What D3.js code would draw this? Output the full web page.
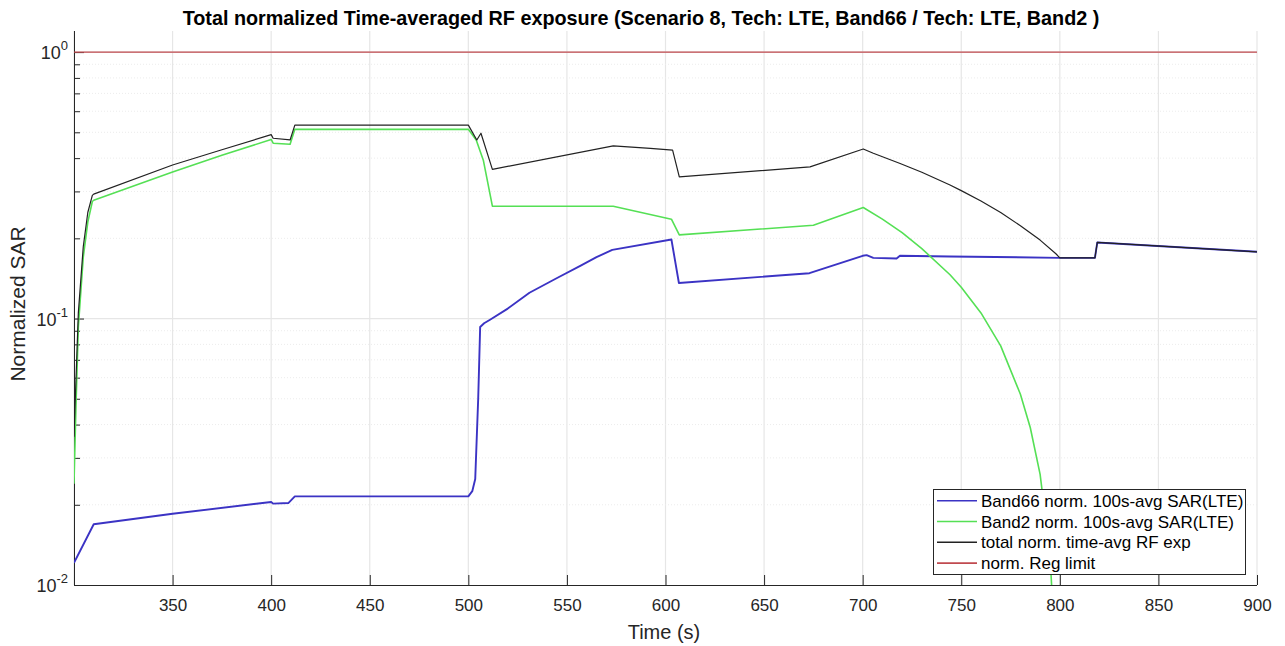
<!DOCTYPE html>
<html>
<head>
<meta charset="utf-8">
<script src="https://cdn.jsdelivr.net/npm/d3@7"></script>
<style>
  html, body { margin: 0; padding: 0; background: #ffffff; }
  svg { display: block; font-family: "Liberation Sans", Arial, Helvetica, sans-serif; }
</style>
</head>
<body>
<svg id="chart" width="1285" height="646"></svg>
<script>
// ---- data ----
const titleText = "Total normalized Time-averaged RF exposure (Scenario 8, Tech: LTE, Band66 / Tech: LTE, Band2 )";
const xLabel = "Time (s)";
const yLabel = "Normalized SAR";
const xTicks = [350, 400, 450, 500, 550, 600, 650, 700, 750, 800, 850, 900];
const yMajorTicks = [0.01, 0.1, 1];
const yTickExp = ["-2", "-1", "0"];
const seriesNames = ["Band66 norm. 100s-avg SAR(LTE)", "Band2 norm. 100s-avg SAR(LTE)", "total norm. time-avg RF exp", "norm. Reg limit"];

const band66T = [300, 310, 350, 400, 401, 408.7, 412, 500, 502, 503.5, 505, 506, 508, 511, 520, 531, 545, 557, 565, 573, 603, 606.8, 673, 700, 702, 705.4, 717.2, 718.9, 744, 800, 817.8, 819, 900];
const band66V = [0.0121, 0.0169, 0.0185, 0.0205, 0.0202, 0.0203, 0.0215, 0.0215, 0.0225, 0.025, 0.05, 0.093, 0.096, 0.099, 0.109, 0.125, 0.142, 0.158, 0.17, 0.181, 0.198, 0.136, 0.148, 0.172, 0.173, 0.169, 0.168, 0.172, 0.171, 0.169, 0.169, 0.193, 0.178];

const band2T = [300, 301, 302.2, 304.7, 307, 309.3, 310, 350, 375, 400, 401, 409.6, 412, 500, 504, 507.6, 512.2, 573.5, 603, 607, 675, 700.3, 710, 720, 730, 744.3, 750, 760, 770, 780, 785, 790, 795, 798, 799.5];
const band2V = [0.024, 0.047, 0.093, 0.17, 0.23, 0.275, 0.278, 0.355, 0.41, 0.47, 0.455, 0.451, 0.513, 0.513, 0.468, 0.393, 0.264, 0.264, 0.236, 0.206, 0.224, 0.261, 0.236, 0.21, 0.183, 0.146, 0.131, 0.105, 0.079, 0.052, 0.039, 0.026, 0.013, 0.005, 0.0013];

const totalT = [300, 301, 302.2, 304.7, 307, 309.3, 310, 350, 375, 400, 401, 409.6, 412, 500, 504.3, 506.4, 512.2, 573.5, 592.3, 603.6, 607, 673.3, 700.3, 705.4, 719, 730, 744.3, 750, 760, 770, 780, 790, 798, 800, 817.8, 819, 900];
const totalV = [0.036, 0.059, 0.105, 0.186, 0.25, 0.29, 0.293, 0.377, 0.43, 0.49, 0.475, 0.468, 0.532, 0.532, 0.468, 0.496, 0.363, 0.445, 0.435, 0.429, 0.340, 0.371, 0.433, 0.417, 0.382, 0.354, 0.317, 0.302, 0.276, 0.25, 0.223, 0.197, 0.175, 0.169, 0.169, 0.193, 0.178];

const limitT = [300, 900];
const limitV = [1, 1];

// ---- layout ----
const svg = d3.select("#chart");
const plotL = 74, plotR = 1257, plotT = 31, plotB = 585;
const x = d3.scaleLinear().domain([300, 900]).range([plotL, plotR]);
const y = d3.scaleLog().domain([0.01, 1.2]).range([plotB, plotT]);

const colors = ["#3b33c4", "#55e055", "#222222", "#c04a4f"];

// grid
const grid = svg.append("g");
const vGrid = d3.range(300, 901, 50);
grid.selectAll("line.vg").data(vGrid).join("line")
  .attr("x1", d => x(d)).attr("x2", d => x(d))
  .attr("y1", plotT).attr("y2", plotB)
  .attr("stroke", "#e6e6e6").attr("stroke-width", 1.2);
const minorVals = [];
[0.01, 0.1, 1].forEach(dec => { for (let k = 2; k <= 9; k++) { const v = dec * k; if (v <= 1.2) minorVals.push(v); } });
grid.selectAll("line.mg").data(minorVals).join("line")
  .attr("x1", plotL).attr("x2", plotR)
  .attr("y1", d => y(d)).attr("y2", d => y(d))
  .attr("stroke", "#ececec").attr("stroke-width", 1).attr("stroke-dasharray", "1,2");
grid.selectAll("line.hg").data([0.1, 1]).join("line")
  .attr("x1", plotL).attr("x2", plotR)
  .attr("y1", d => y(d)).attr("y2", d => y(d))
  .attr("stroke", "#e6e6e6").attr("stroke-width", 1.2);

// axes
const axisColor = "#262626";
const xAxis = d3.axisBottom(x).tickValues(xTicks).tickSizeInner(-10).tickSizeOuter(0).tickFormat(d3.format("d")).tickPadding(14);
const gx = svg.append("g").attr("transform", `translate(0,${plotB})`).call(xAxis);
gx.select(".domain").attr("stroke", axisColor).attr("d", `M${plotL},0.5H${plotR}`);
gx.selectAll(".tick line").attr("stroke", axisColor);
gx.selectAll(".tick text").attr("fill", axisColor).attr("font-size", 17).attr("font-family", "Liberation Sans, Arial, sans-serif");

const yAxis = d3.axisLeft(y).tickValues(minorVals.concat(yMajorTicks)).tickSizeOuter(0).tickFormat("");
const gy = svg.append("g").attr("transform", `translate(${plotL},0)`).call(yAxis);
gy.select(".domain").attr("stroke", axisColor).attr("d", `M0.5,${plotB}V${plotT}`);
gy.selectAll(".tick line").attr("stroke", axisColor).attr("x2", d => yMajorTicks.includes(d) ? 10 : 6);

// y major labels with superscript
const ylab = svg.append("g");
yMajorTicks.forEach((v, i) => {
  const t = ylab.append("text")
    .attr("x", plotL - 6).attr("y", y(v) + 7)
    .attr("text-anchor", "end").attr("fill", axisColor)
    .attr("font-size", 18);
  t.append("tspan").text("10");
  t.append("tspan").attr("font-size", 13).attr("dy", -9).text(yTickExp[i]);
});

// clip
svg.append("clipPath").attr("id", "clip").append("rect")
  .attr("x", plotL).attr("y", plotT).attr("width", plotR - plotL).attr("height", plotB - plotT);

const line = d3.line().x(d => x(d[0])).y(d => y(Math.max(d[1], 0.004)));
const series = [
  d3.zip(band66T, band66V),
  d3.zip(band2T, band2V),
  d3.zip(totalT, totalV),
  d3.zip(limitT, limitV)
];
const widths = [1.9, 1.6, 1.2, 1.4];
const gLines = svg.append("g").attr("clip-path", "url(#clip)");
series.forEach((s, i) => {
  gLines.append("path").datum(s).attr("d", line)
    .attr("fill", "none").attr("stroke", colors[i]).attr("stroke-width", widths[i])
    .attr("stroke-linejoin", "round");
});

// title and labels
svg.append("text").attr("x", 641).attr("y", 25).attr("text-anchor", "middle")
  .attr("font-weight", "bold").attr("font-size", 19.8).attr("fill", "#000").text(titleText);
svg.append("text").attr("x", 664).attr("y", 639).attr("text-anchor", "middle")
  .attr("font-size", 20).attr("fill", axisColor).text(xLabel);
svg.append("text").attr("transform", `translate(25,304) rotate(-90)`).attr("text-anchor", "middle")
  .attr("font-size", 21).attr("fill", axisColor).text(yLabel);

// legend
const lg = svg.append("g");
lg.append("rect").attr("x", 933.5).attr("y", 489.5).attr("width", 312).attr("height", 85)
  .attr("fill", "#fff").attr("stroke", "#262626").attr("stroke-width", 1);
seriesNames.forEach((n, i) => {
  const cy = 500.7 + i * 20.8;
  lg.append("line").attr("x1", 937).attr("x2", 977).attr("y1", cy).attr("y2", cy)
    .attr("stroke", colors[i]).attr("stroke-width", 1.6);
  lg.append("text").attr("x", 981).attr("y", cy + 6).attr("font-size", 17)
    .attr("fill", "#000").text(n);
});
</script>
</body>
</html>
